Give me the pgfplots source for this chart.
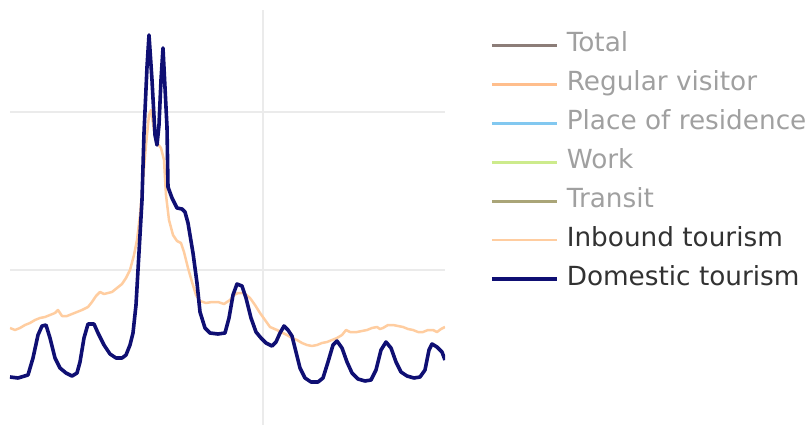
\documentclass[border=0pt]{standalone}
\usepackage{pgfplots}
\pgfplotsset{compat=1.18}
\usepackage{fontspec}
\setmainfont{DejaVu Sans}
\definecolor{cTotal}{RGB}{140,125,120}
\definecolor{cRegular}{RGB}{255,190,140}
\definecolor{cResidence}{RGB}{130,200,240}
\definecolor{cWork}{RGB}{205,235,140}
\definecolor{cTransit}{RGB}{170,165,120}
\definecolor{cInbound}{RGB}{255,205,160}
\definecolor{cDomestic}{RGB}{15,15,115}
\definecolor{cGrid}{RGB}{235,235,235}
\definecolor{cHidden}{RGB}{160,160,160}
\definecolor{cText}{RGB}{50,50,50}
\begin{document}
\begin{tikzpicture}
\begin{axis}[
  scale only axis, width=435pt, height=415pt,
  at={(10pt,0pt)}, anchor=south west,
  xmin=10, xmax=445, ymin=10, ymax=425, y dir=reverse,
  axis line style={draw=none},
  xtick={263}, ytick={112,270},
  xticklabels={}, yticklabels={},
  major tick length=0pt,
  grid=major, major grid style={cGrid, line width=1.6pt},
  legend cell align=left,
  legend style={draw=none, fill=none, at={(1.1034,0.946)}, anchor=north west,
    inner sep=0pt, row sep=14pt, column sep=8pt,
    font=\fontsize{26.3}{30}\selectfont,
    nodes={inner sep=0pt, text height=19pt, text depth=6pt}},
  legend image code/.code={\draw[#1] (0pt,0pt) -- (65pt,0pt);},
]
\addlegendimage{cTotal, line width=3pt}
\addlegendentry{\textcolor{cHidden}{Total}}
\addlegendimage{cRegular, line width=3pt}
\addlegendentry{\textcolor{cHidden}{Regular visitor}}
\addlegendimage{cResidence, line width=3pt}
\addlegendentry{\textcolor{cHidden}{Place of residence}}
\addlegendimage{cWork, line width=3pt}
\addlegendentry{\textcolor{cHidden}{Work}}
\addlegendimage{cTransit, line width=3pt}
\addlegendentry{\textcolor{cHidden}{Transit}}
\addplot[cInbound, line width=2.5pt, line join=round] coordinates {
(10,328)(15,330)(20,328)(25,325)(30,323)(35,320)(40,318)(45,317)(50,315)(55,313)(58,310)(62,316)(67,316)(72,314)(77,312)(82,310)(88,307)(92,302)(96,296)(100,292)(104,294)(108,293)(112,292)(117,288)(122,284)(126,278)(130,270)(134,255)(137,240)(140,215)(143,180)(146,145)(149,115)(151,110)(154,130)(157,143)(161,148)(164,160)(166,195)(169,220)(173,235)(177,241)(181,243)(184,252)(188,268)(192,282)(196,295)(200,301)(206,303)(212,302)(218,302)(224,304)(230,300)(234,295)(238,293)(244,293)(250,298)(255,305)(260,313)(265,320)(270,327)(277,330)(283,333)(287,335)(292,338)(297,340)(302,343)(307,345)(312,346)(317,345)(322,343)(327,342)(332,340)(337,338)(342,335)(346,330)(350,332)(357,332)(362,331)(367,330)(372,328)(377,327)(380,329)(383,328)(388,325)(393,325)(398,326)(403,327)(408,329)(413,330)(418,332)(423,332)(428,330)(433,330)(437,332)(441,329)(445,327)
};
\addlegendentry{\textcolor{cText}{Inbound tourism}}
\addplot[cDomestic, line width=3.6pt, line join=round] coordinates {
(10,377)(18,378)(28,375)(33,358)(38,335)(42,326)(46,325)(50,338)(55,358)(60,368)(66,373)(72,376)(77,373)(80,362)(84,338)(88,324)(94,324)(98,333)(104,345)(110,354)(116,358)(122,358)(126,355)(130,345)(133,333)(136,305)(138,270)(142,200)(144,133)(147,67)(149,35)(152,80)(155,135)(157,145)(159,125)(161,80)(163,48)(167,127)(168,187)(172,198)(177,208)(182,209)(185,212)(188,223)(193,253)(197,283)(200,312)(205,328)(210,333)(218,334)(225,333)(229,318)(233,295)(237,284)(242,286)(246,298)(251,318)(256,332)(261,338)(266,343)(272,346)(276,342)(280,333)(284,326)(288,330)(292,336)(296,352)(300,368)(305,378)(311,382)(318,382)(323,378)(328,362)(333,345)(337,341)(342,348)(347,362)(352,373)(358,379)(365,381)(371,380)(376,370)(381,350)(386,342)(391,348)(396,362)(401,372)(407,376)(414,378)(420,377)(425,370)(429,350)(432,344)(437,347)(442,352)(445,360)
};
\addlegendentry{\textcolor{cText}{Domestic tourism}}
\end{axis}
\pgfresetboundingbox
\path (0pt,0pt) rectangle (809pt,425pt);
\end{tikzpicture}
\end{document}
